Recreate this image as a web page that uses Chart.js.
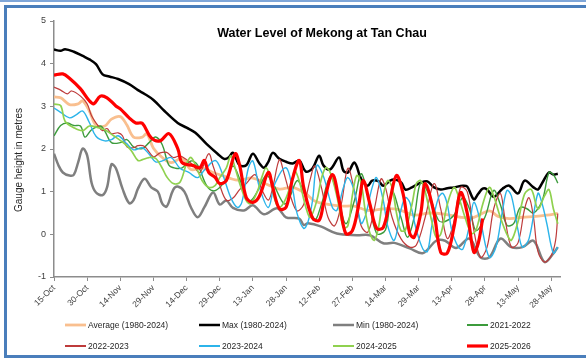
<!DOCTYPE html>
<html><head><meta charset="utf-8">
<script src="https://cdn.jsdelivr.net/npm/chart.js@4.4.1/dist/chart.umd.min.js"></script>
<style>
html,body{margin:0;padding:0;background:#fff;}
#wrap{position:relative;width:586px;height:361px;overflow:hidden;background:#fff;}
canvas{position:absolute;left:0;top:0;}
#topband{position:absolute;left:0;top:0;width:586px;height:2px;background:#7FA6D8;}
#frame{position:absolute;left:4px;top:5px;width:700px;height:353px;border:3px solid #4A7EBB;border-right:none;box-sizing:border-box;pointer-events:none;}
</style></head>
<body><div id="wrap"><canvas id="c" width="586" height="361"></canvas><div id="topband"></div><div id="frame"></div></div>
<script>
const chartTitle = 'Water Level of Mekong at Tan Chau';
const yTitle = 'Gauge height in metres';
const tickLabels = ['15-Oct','30-Oct','14-Nov','29-Nov','14-Dec','29-Dec','13-Jan','28-Jan','12-Feb','27-Feb','14-Mar','29-Mar','13-Apr','28-Apr','13-May','28-May'];
const seriesNames = ['Average (1980-2024)','Max (1980-2024)','Min (1980-2024)','2021-2022','2022-2023','2023-2024','2024-2025','2025-2026'];

// day index counted from 15-Oct
const avgDays = [0,3,7,11,13,16,19,23,26,30,33,36,40,42,45,49,53,58,62,67,72,76,83,90,96,102,108,114,118,124,130,136,142,150,156,163,170,177,184,190,197,201,206,212,218,223,228];
const avgVals = [3.22,3.20,3.04,3.06,3.13,2.89,2.56,2.54,2.70,2.76,2.56,2.28,2.28,2.36,2.02,1.80,1.68,1.78,1.52,1.56,1.45,1.38,1.27,1.32,1.18,1.06,1.10,0.95,0.78,0.70,0.66,0.66,0.56,0.60,0.58,0.45,0.50,0.47,0.40,0.40,0.55,0.42,0.37,0.40,0.42,0.45,0.49];

const maxDays = [0,3,5,9,13,16,19,22,25,29,34,38,41,45,50,56,60,64,69,74,77,79,81,84,87,90,93,95,97,99,102,105,108,111,114,117,120,122,125,129,131,133,136,139,142,144,147,149,153,157,159,162,166,169,172,175,178,181,185,187,190,192,194,196,199,203,206,210,213,217,219,221,224,226,228];
const maxVals = [4.33,4.30,4.34,4.28,4.18,4.10,3.99,3.75,3.70,3.64,3.52,3.38,3.29,3.15,2.89,2.61,2.50,2.38,2.12,1.89,1.77,1.80,1.91,1.62,1.62,1.89,1.66,1.56,1.70,1.91,1.77,1.70,1.66,1.73,1.47,1.55,1.84,1.61,1.52,1.80,1.49,1.45,1.68,1.30,1.14,1.26,1.24,1.14,1.28,1.22,1.05,1.10,1.21,1.24,1.10,1.05,1.08,1.10,1.14,1.12,0.82,0.95,1.07,1.05,0.88,1.07,1.14,0.96,1.26,1.10,1.05,1.21,1.45,1.40,1.42];

const minDays = [0,2,4,7,9,11,13,15,17,19,22,24,26,28,31,34,36,38,41,44,47,49,51,54,56,59,62,65,68,72,75,78,81,86,90,95,101,105,111,113,115,121,128,137,143,149,154,161,167,173,177,182,188,193,197,202,207,212,217,222,226,228];
const minVals = [1.89,1.62,1.45,1.38,1.40,1.70,2.01,1.85,1.21,0.98,0.92,1.10,1.64,1.55,1.07,0.73,0.80,1.07,1.30,1.10,1.00,0.72,0.65,1.05,1.12,1.00,0.63,0.40,0.63,0.98,0.70,0.79,0.62,0.56,0.68,0.47,0.61,0.40,0.37,0.22,0.26,0.18,0.02,-0.02,-0.02,-0.21,-0.20,-0.33,-0.44,-0.15,-0.15,-0.32,-0.10,-0.54,-0.54,-0.10,-0.30,-0.30,-0.15,-0.65,-0.45,-0.30];

const y2122Days = [0,3,6,9,12,14,17,21,23,26,30,33,36,40,43,46,49,52,55,58,62,65,69,72,75,78,81,84,87,89,92,96,99,104,106,110,113,118,121,125,128,132,136,139,142,146,150,153,157,160,163,166,170,174,177,181,185,188,191,195,199,202,205,208,211,214,217,221,224,226,228];
const y2122Vals = [2.31,2.55,2.61,2.55,2.54,2.28,2.45,2.54,2.42,2.15,2.15,2.22,2.05,2.01,2.15,2.28,2.10,1.62,1.55,1.56,1.72,1.62,1.15,1.02,1.10,1.30,1.60,1.30,0.86,0.79,1.00,1.38,1.20,0.72,0.78,1.26,1.00,0.35,0.70,1.35,1.00,0.25,0.80,1.42,0.90,0.02,0.10,1.00,0.40,-0.07,0.40,1.21,0.90,0.33,0.30,0.45,0.86,0.60,0.09,0.40,1.03,0.70,0.21,0.25,0.63,0.60,0.50,0.80,1.45,1.40,1.20];

const y2223Days = [0,3,6,8,12,15,17,20,22,24,26,29,31,33,36,38,41,45,48,51,54,57,60,63,66,70,72,75,78,81,84,87,91,94,97,99,102,104,107,110,113,116,118,121,124,127,130,133,136,139,142,145,148,150,153,157,161,164,168,172,175,178,181,184,187,190,193,196,199,202,204,207,210,213,215,217,219,222,225,227,228];
const y2223Vals = [3.45,3.38,3.29,3.36,3.24,3.06,2.78,2.54,2.43,2.48,2.36,2.38,2.31,2.05,2.03,2.08,2.06,1.82,1.91,1.92,1.80,1.84,1.75,1.62,1.45,1.89,1.60,1.15,0.80,0.85,1.05,1.19,1.40,1.05,0.80,1.10,1.75,1.45,0.90,0.55,0.70,1.30,1.60,1.10,0.40,0.20,0.70,1.55,1.00,0.20,0.05,0.60,1.30,1.10,0.40,-0.10,-0.30,-0.25,0.40,1.19,0.60,-0.10,0.30,1.10,1.00,0.10,-0.54,-0.30,0.60,0.96,0.40,-0.30,-0.20,0.60,0.86,0.40,-0.40,-0.65,-0.50,-0.14,0.49];

const y2324Days = [0,3,7,10,13,16,19,23,26,29,33,36,40,43,46,49,53,57,61,65,68,73,76,80,83,85,88,90,93,97,100,105,108,110,113,115,117,119,122,126,128,131,133,136,139,141,144,146,149,151,154,157,159,161,164,167,169,171,174,176,178,180,183,185,188,190,193,197,200,203,205,207,210,212,215,219,221,223,226,228];
const y2324Vals = [2.96,2.86,2.73,2.80,2.89,2.62,2.30,2.19,2.22,2.31,2.12,1.98,2.03,1.88,1.70,1.72,1.80,1.55,1.45,1.33,1.50,1.73,1.45,0.86,0.63,0.75,1.56,1.72,1.10,0.63,1.19,1.56,1.05,0.49,0.14,0.30,0.79,1.62,1.35,0.63,0.56,1.10,1.33,1.00,0.26,0.45,1.10,1.33,0.80,0.20,-0.14,0.56,0.86,0.75,0.10,-0.35,-0.40,0.20,0.86,0.96,0.70,0.10,-0.30,-0.35,0.20,0.75,0.30,-0.54,-0.30,0.56,1.03,0.90,0.10,-0.30,-0.10,0.96,0.70,0.26,-0.44,-0.30];

const y2425Days = [0,3,5,9,13,16,20,23,27,32,35,38,40,43,46,49,51,54,57,60,62,65,67,70,73,75,78,80,82,84,87,89,92,94,96,98,100,102,105,108,109,111,114,116,119,121,123,125,128,131,133,135,137,139,141,143,145,147,149,151,153,155,157,159,162,164,166,168,171,173,175,178,181,183,186,189,191,194,197,199,202,205,207,210,213,216,219,222,224,226,228];
const y2425Vals = [3.05,3.02,2.65,2.50,2.43,2.54,2.50,2.45,2.31,2.12,1.96,1.73,1.75,1.80,1.78,1.55,1.35,1.19,1.22,1.66,1.80,1.50,1.26,1.10,1.15,1.33,1.56,1.84,1.55,1.20,0.79,0.72,1.00,1.33,1.56,1.30,0.80,0.63,0.85,1.33,1.49,1.25,0.63,0.40,0.80,1.30,1.56,1.45,0.90,0.16,0.20,0.90,1.38,1.20,0.50,0.02,-0.14,0.20,0.90,1.26,1.10,0.50,0.09,0.10,0.70,1.19,1.26,1.00,0.30,-0.07,0.00,0.70,1.10,0.90,0.40,0.02,0.10,0.70,1.10,0.90,0.40,0.00,-0.14,0.30,0.95,1.05,0.60,0.90,1.05,0.60,0.25];

const y2526Days = [0,4,7,12,16,18,21,24,28,30,34,37,40,44,48,52,56,58,63,66,68,70,73,75,78,82,84,87,90,93,97,99,102,105,108,111,113,117,120,122,126,129,132,135,138,140,143,146,149,152,155,158,161,163,166,168,172,175,178,181,184,187,190,192,194];
const y2526Vals = [3.73,3.76,3.66,3.41,3.13,3.06,3.24,3.20,3.01,2.94,2.73,2.61,2.60,2.26,2.19,2.36,2.01,1.68,1.61,1.56,1.73,1.45,1.33,1.19,1.26,1.89,1.62,0.86,0.75,0.90,1.45,1.10,0.60,0.63,1.31,1.73,1.10,0.38,0.33,0.72,1.40,0.80,0.02,0.08,0.72,1.26,0.70,0.14,0.16,0.79,1.38,0.95,0.02,-0.07,0.50,1.19,0.49,-0.42,-0.44,0.16,0.98,0.50,-0.42,-0.21,0.37];

const pts = (d, v) => d.map((x, i) => ({x: x, y: v[i]}));
const styles = [
  {c:'#F9BF8F', w:2.8},
  {c:'#000000', w:2.5},
  {c:'#7F7F7F', w:2.5},
  {c:'#3C9B3C', w:1.4},
  {c:'#BE3B3B', w:1.2},
  {c:'#2CB4EA', w:1.4},
  {c:'#8FD14F', w:1.7},
  {c:'#FF0000', w:3.2}
];
const dataSets = [pts(avgDays,avgVals),pts(maxDays,maxVals),pts(minDays,minVals),pts(y2122Days,y2122Vals),pts(y2223Days,y2223Vals),pts(y2324Days,y2324Vals),pts(y2425Days,y2425Vals),pts(y2526Days,y2526Vals)];

Chart.defaults.font.family = '"Liberation Sans", Arial, sans-serif';

const overlay = {
  id: 'overlay',
  afterDraw(chart) {
    const ctx = chart.ctx;
    ctx.save();
    ctx.fillStyle = '#000';
    ctx.font = 'bold 12.5px "Liberation Sans", Arial, sans-serif';
    ctx.textAlign = 'center';
    ctx.textBaseline = 'middle';
    ctx.fillText(chartTitle, 322, 34);
    ctx.save();
    ctx.translate(19, 160);
    ctx.rotate(-Math.PI / 2);
    ctx.font = '10px "Liberation Sans", Arial, sans-serif';
    ctx.fillStyle = '#262626';
    ctx.fillText(yTitle, 0, 0);
    ctx.restore();
    const colX = [65, 199, 333, 467];
    const rowY = [325, 346];
    ctx.font = '8.5px "Liberation Sans", Arial, sans-serif';
    ctx.textAlign = 'left';
    chart.data.datasets.forEach((ds, i) => {
      const x = colX[i % 4], y = rowY[Math.floor(i / 4)];
      ctx.strokeStyle = ds.borderColor;
      ctx.lineWidth = Math.max(2, ds.borderWidth);
      ctx.beginPath();
      ctx.moveTo(x, y);
      ctx.lineTo(x + 21, y);
      ctx.stroke();
      ctx.fillStyle = '#262626';
      ctx.fillText(ds.label, x + 23, y + 0.5);
    });
    ctx.restore();
  }
};

new Chart(document.getElementById('c'), {
  type: 'line',
  data: {
    datasets: seriesNames.map((n, i) => ({
      label: n,
      data: dataSets[i],
      borderColor: styles[i].c,
      backgroundColor: styles[i].c,
      borderWidth: styles[i].w,
      pointRadius: 0,
      tension: 0.35,
      borderJoinStyle: 'round',
      fill: false,
      order: 7 - i
    }))
  },
  options: {
    responsive: false,
    animation: false,
    devicePixelRatio: 1,
    layout: {padding: {left: 0, right: 26, top: 21, bottom: 0}},
    plugins: {legend: {display: false}, title: {display: false}, tooltip: {enabled: false}},
    scales: {
      x: {
        type: 'linear', min: 0, max: 229,
        afterFit: s => { s.height = 84; },
        border: {display: true, color: '#8C8C8C', width: 1.5},
        grid: {display: true, drawOnChartArea: false, drawTicks: true, tickLength: 4, color: '#8C8C8C'},
        ticks: {stepSize: 15, includeBounds: false, autoSkip: false, maxRotation: 45, minRotation: 45, padding: 2,
          color: '#404040', font: {size: 8.5},
          callback: v => tickLabels[Math.round(v / 15)] || ''}
      },
      y: {
        min: -1, max: 5,
        afterFit: s => { s.width = 54; },
        border: {display: true, color: '#8C8C8C', width: 1.5},
        grid: {display: true, drawOnChartArea: false, drawTicks: true, tickLength: 4, color: '#8C8C8C'},
        ticks: {stepSize: 1, padding: 4, color: '#404040', font: {size: 9}}
      }
    }
  },
  plugins: [overlay]
});
</script>
</body></html>
